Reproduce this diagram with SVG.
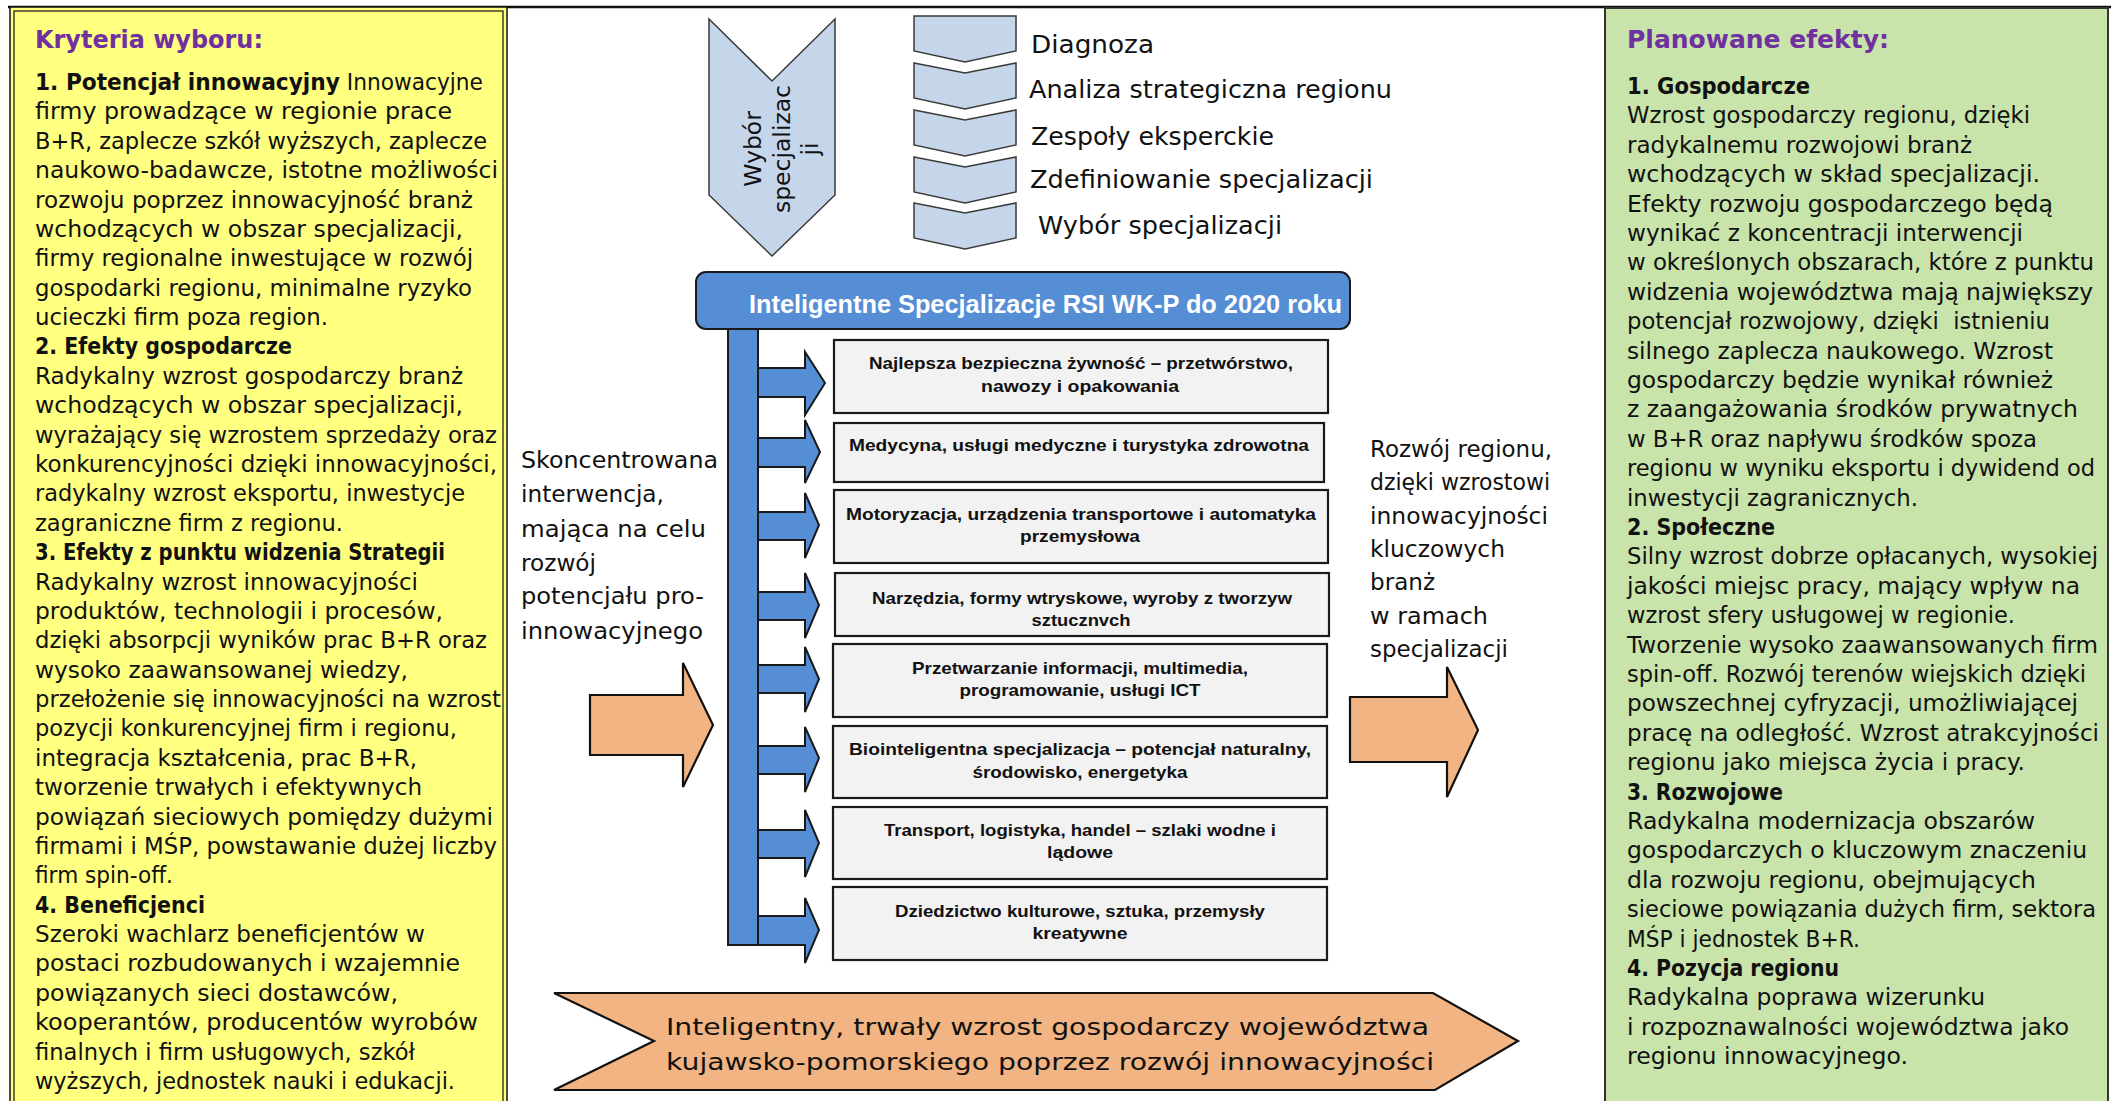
<svg xmlns="http://www.w3.org/2000/svg" width="2111" height="1101" viewBox="0 0 2111 1101">
<style>
.t{font-family:"DejaVu Sans","Liberation Sans",sans-serif;font-size:23.5px;fill:#111}
.b{font-weight:bold}
.hd{font-family:"DejaVu Sans","Liberation Sans",sans-serif;font-weight:bold;font-size:25px;fill:#7030A0}
.bx{fill:#F2F2F2;stroke:#1a1a1a;stroke-width:2.2}
.bt{font-family:"Liberation Sans","DejaVu Sans",sans-serif;font-weight:bold;font-size:17px;fill:#111;text-anchor:middle}
.chev{fill:#C6D6EA;stroke:#3a3a3a;stroke-width:1.5}
.cl{font-family:"DejaVu Sans","Liberation Sans",sans-serif;font-size:24px;fill:#111}
.ba{fill:#558ED5;stroke:#1a1a1a;stroke-width:2}
.oa{fill:#F1B482;stroke:#111;stroke-width:2.2}
.mid{font-family:"DejaVu Sans","Liberation Sans",sans-serif;font-size:23.5px;fill:#111}
</style>
<rect x="0" y="0" width="2111" height="1101" fill="#ffffff"/>
<line x1="8" y1="7" x2="2111" y2="7" stroke="#111" stroke-width="2.5"/>

<g id="criteria">
<rect x="10" y="7" width="497" height="1100" fill="#FFFF80" stroke="#111" stroke-width="1.5"/>
<rect x="14" y="11" width="489" height="1100" fill="none" stroke="#111" stroke-width="1.2"/>
<text class="hd" x="35" y="48" textLength="228" lengthAdjust="spacingAndGlyphs">Kryteria wyboru:</text>
<text class="t" x="35" y="90" textLength="448" lengthAdjust="spacingAndGlyphs"><tspan class="b">1. Potencjał innowacyjny</tspan> Innowacyjne</text>
<text class="t" x="35" y="119.4" textLength="417" lengthAdjust="spacingAndGlyphs">firmy prowadzące w regionie prace</text>
<text class="t" x="35" y="148.8" textLength="452" lengthAdjust="spacingAndGlyphs">B+R, zaplecze szkół wyższych, zaplecze</text>
<text class="t" x="35" y="178.1" textLength="463" lengthAdjust="spacingAndGlyphs">naukowo-badawcze, istotne możliwości</text>
<text class="t" x="35" y="207.5" textLength="438" lengthAdjust="spacingAndGlyphs">rozwoju poprzez innowacyjność branż</text>
<text class="t" x="35" y="236.9" textLength="428" lengthAdjust="spacingAndGlyphs">wchodzących w obszar specjalizacji,</text>
<text class="t" x="35" y="266.3" textLength="438" lengthAdjust="spacingAndGlyphs">firmy regionalne inwestujące w rozwój</text>
<text class="t" x="35" y="295.7" textLength="437" lengthAdjust="spacingAndGlyphs">gospodarki regionu, minimalne ryzyko</text>
<text class="t" x="35" y="325" textLength="293" lengthAdjust="spacingAndGlyphs">ucieczki firm poza region.</text>
<text class="t b" x="35" y="354.4" textLength="257" lengthAdjust="spacingAndGlyphs">2. Efekty gospodarcze</text>
<text class="t" x="35" y="383.8" textLength="428" lengthAdjust="spacingAndGlyphs">Radykalny wzrost gospodarczy branż</text>
<text class="t" x="35" y="413.2" textLength="428" lengthAdjust="spacingAndGlyphs">wchodzących w obszar specjalizacji,</text>
<text class="t" x="35" y="442.6" textLength="462" lengthAdjust="spacingAndGlyphs">wyrażający się wzrostem sprzedaży oraz</text>
<text class="t" x="35" y="471.9" textLength="462" lengthAdjust="spacingAndGlyphs">konkurencyjności dzięki innowacyjności,</text>
<text class="t" x="35" y="501.3" textLength="430" lengthAdjust="spacingAndGlyphs">radykalny wzrost eksportu, inwestycje</text>
<text class="t" x="35" y="530.7" textLength="308" lengthAdjust="spacingAndGlyphs">zagraniczne firm z regionu.</text>
<text class="t b" x="35" y="560.1" textLength="410" lengthAdjust="spacingAndGlyphs">3. Efekty z punktu widzenia Strategii</text>
<text class="t" x="35" y="589.5" textLength="383" lengthAdjust="spacingAndGlyphs">Radykalny wzrost innowacyjności</text>
<text class="t" x="35" y="618.8" textLength="408" lengthAdjust="spacingAndGlyphs">produktów, technologii i procesów,</text>
<text class="t" x="35" y="648.2" textLength="452" lengthAdjust="spacingAndGlyphs">dzięki absorpcji wyników prac B+R oraz</text>
<text class="t" x="35" y="677.6" textLength="373" lengthAdjust="spacingAndGlyphs">wysoko zaawansowanej wiedzy,</text>
<text class="t" x="35" y="707" textLength="466" lengthAdjust="spacingAndGlyphs">przełożenie się innowacyjności na wzrost</text>
<text class="t" x="35" y="736.4" textLength="422" lengthAdjust="spacingAndGlyphs">pozycji konkurencyjnej firm i regionu,</text>
<text class="t" x="35" y="765.7" textLength="382" lengthAdjust="spacingAndGlyphs">integracja kształcenia, prac B+R,</text>
<text class="t" x="35" y="795.1" textLength="387" lengthAdjust="spacingAndGlyphs">tworzenie trwałych i efektywnych</text>
<text class="t" x="35" y="824.5" textLength="458" lengthAdjust="spacingAndGlyphs">powiązań sieciowych pomiędzy dużymi</text>
<text class="t" x="35" y="853.9" textLength="462" lengthAdjust="spacingAndGlyphs">firmami i MŚP, powstawanie dużej liczby</text>
<text class="t" x="35" y="883.3" textLength="138" lengthAdjust="spacingAndGlyphs">firm spin-off.</text>
<text class="t b" x="35" y="912.6" textLength="170" lengthAdjust="spacingAndGlyphs">4. Beneficjenci</text>
<text class="t" x="35" y="942" textLength="390" lengthAdjust="spacingAndGlyphs">Szeroki wachlarz beneficjentów w</text>
<text class="t" x="35" y="971.4" textLength="425" lengthAdjust="spacingAndGlyphs">postaci rozbudowanych i wzajemnie</text>
<text class="t" x="35" y="1000.8" textLength="363" lengthAdjust="spacingAndGlyphs">powiązanych sieci dostawców,</text>
<text class="t" x="35" y="1030.2" textLength="443" lengthAdjust="spacingAndGlyphs">kooperantów, producentów wyrobów</text>
<text class="t" x="35" y="1059.5" textLength="380" lengthAdjust="spacingAndGlyphs">finalnych i firm usługowych, szkół</text>
<text class="t" x="35" y="1088.9" textLength="420" lengthAdjust="spacingAndGlyphs">wyższych, jednostek nauki i edukacji.</text>
</g>

<g id="effects">
<rect x="1605" y="8" width="503" height="1100" fill="#C8E4AA" stroke="#333" stroke-width="2"/>
<text class="hd" x="1627" y="48" textLength="262" lengthAdjust="spacingAndGlyphs">Planowane efekty:</text>
<text class="t b" x="1627" y="94" textLength="183" lengthAdjust="spacingAndGlyphs">1. Gospodarcze</text>
<text class="t" x="1627" y="123.4" textLength="403" lengthAdjust="spacingAndGlyphs">Wzrost gospodarczy regionu, dzięki</text>
<text class="t" x="1627" y="152.8" textLength="345" lengthAdjust="spacingAndGlyphs">radykalnemu rozwojowi branż</text>
<text class="t" x="1627" y="182.2" textLength="413" lengthAdjust="spacingAndGlyphs">wchodzących w skład specjalizacji.</text>
<text class="t" x="1627" y="211.6" textLength="426" lengthAdjust="spacingAndGlyphs">Efekty rozwoju gospodarczego będą</text>
<text class="t" x="1627" y="241" textLength="396" lengthAdjust="spacingAndGlyphs">wynikać z koncentracji interwencji</text>
<text class="t" x="1627" y="270.4" textLength="467" lengthAdjust="spacingAndGlyphs">w określonych obszarach, które z punktu</text>
<text class="t" x="1627" y="299.8" textLength="466" lengthAdjust="spacingAndGlyphs">widzenia województwa mają największy</text>
<text class="t" x="1627" y="329.2" textLength="423" lengthAdjust="spacingAndGlyphs">potencjał rozwojowy, dzięki&#160; istnieniu</text>
<text class="t" x="1627" y="358.6" textLength="426" lengthAdjust="spacingAndGlyphs">silnego zaplecza naukowego. Wzrost</text>
<text class="t" x="1627" y="388" textLength="426" lengthAdjust="spacingAndGlyphs">gospodarczy będzie wynikał również</text>
<text class="t" x="1627" y="417.4" textLength="451" lengthAdjust="spacingAndGlyphs">z zaangażowania środków prywatnych</text>
<text class="t" x="1627" y="446.8" textLength="410" lengthAdjust="spacingAndGlyphs">w B+R oraz napływu środków spoza</text>
<text class="t" x="1627" y="476.2" font-size="21" textLength="468" lengthAdjust="spacingAndGlyphs">regionu w wyniku eksportu i dywidend od</text>
<text class="t" x="1627" y="505.6" textLength="291" lengthAdjust="spacingAndGlyphs">inwestycji zagranicznych.</text>
<text class="t b" x="1627" y="535" textLength="148" lengthAdjust="spacingAndGlyphs">2. Społeczne</text>
<text class="t" x="1627" y="564.4" textLength="471" lengthAdjust="spacingAndGlyphs">Silny wzrost dobrze opłacanych, wysokiej</text>
<text class="t" x="1627" y="593.8" textLength="453" lengthAdjust="spacingAndGlyphs">jakości miejsc pracy, mający wpływ na</text>
<text class="t" x="1627" y="623.2" textLength="388" lengthAdjust="spacingAndGlyphs">wzrost sfery usługowej w regionie.</text>
<text class="t" x="1627" y="652.6" textLength="471" lengthAdjust="spacingAndGlyphs">Tworzenie wysoko zaawansowanych firm</text>
<text class="t" x="1627" y="682" textLength="459" lengthAdjust="spacingAndGlyphs">spin-off. Rozwój terenów wiejskich dzięki</text>
<text class="t" x="1627" y="711.4" textLength="451" lengthAdjust="spacingAndGlyphs">powszechnej cyfryzacji, umożliwiającej</text>
<text class="t" x="1627" y="740.8" textLength="472" lengthAdjust="spacingAndGlyphs">pracę na odległość. Wzrost atrakcyjności</text>
<text class="t" x="1627" y="770.2" textLength="398" lengthAdjust="spacingAndGlyphs">regionu jako miejsca życia i pracy.</text>
<text class="t b" x="1627" y="799.6" textLength="156" lengthAdjust="spacingAndGlyphs">3. Rozwojowe</text>
<text class="t" x="1627" y="829" textLength="408" lengthAdjust="spacingAndGlyphs">Radykalna modernizacja obszarów</text>
<text class="t" x="1627" y="858.4" textLength="460" lengthAdjust="spacingAndGlyphs">gospodarczych o kluczowym znaczeniu</text>
<text class="t" x="1627" y="887.8" textLength="409" lengthAdjust="spacingAndGlyphs">dla rozwoju regionu, obejmujących</text>
<text class="t" x="1627" y="917.2" font-size="21" textLength="469" lengthAdjust="spacingAndGlyphs">sieciowe powiązania dużych firm, sektora</text>
<text class="t" x="1627" y="946.6" textLength="233" lengthAdjust="spacingAndGlyphs">MŚP i jednostek B+R.</text>
<text class="t b" x="1627" y="976" textLength="212" lengthAdjust="spacingAndGlyphs">4. Pozycja regionu</text>
<text class="t" x="1627" y="1005.4" textLength="358" lengthAdjust="spacingAndGlyphs">Radykalna poprawa wizerunku</text>
<text class="t" x="1627" y="1034.8" textLength="442" lengthAdjust="spacingAndGlyphs">i rozpoznawalności województwa jako</text>
<text class="t" x="1627" y="1064.2" textLength="281" lengthAdjust="spacingAndGlyphs">regionu innowacyjnego.</text>
</g>

<g id="selection-chevron">
<polygon class="chev" points="709,19 772,81 835,19 835,195 772,256 709,195"/>
<text class="mid" font-size="22" text-anchor="middle" transform="translate(761,149) rotate(-90)">Wybór</text>
<text class="mid" font-size="22" text-anchor="middle" transform="translate(790,149) rotate(-90)" textLength="128" lengthAdjust="spacingAndGlyphs">specjalizac</text>
<text class="mid" font-size="22" text-anchor="middle" transform="translate(818,149) rotate(-90)">ji</text>
</g>

<g id="step-diagnoza">
<polygon class="chev" points="914,16 1016,16 1016,51 965,62 914,51"/>
<text class="cl" x="1031" y="53" textLength="123" lengthAdjust="spacingAndGlyphs">Diagnoza</text>
</g>
<g id="step-analiza">
<polygon class="chev" points="914,63 965,73 1016,63 1016,98 965,109 914,98"/>
<text class="cl" x="1029" y="98" textLength="363" lengthAdjust="spacingAndGlyphs">Analiza strategiczna regionu</text>
</g>
<g id="step-zespoly">
<polygon class="chev" points="914,110 965,120 1016,110 1016,145 965,156 914,145"/>
<text class="cl" x="1031" y="145" textLength="243" lengthAdjust="spacingAndGlyphs">Zespoły eksperckie</text>
</g>
<g id="step-zdefiniowanie">
<polygon class="chev" points="914,157 965,167 1016,157 1016,192 965,203 914,192"/>
<text class="cl" x="1030" y="188" textLength="343" lengthAdjust="spacingAndGlyphs">Zdefiniowanie specjalizacji</text>
</g>
<g id="step-wybor">
<polygon class="chev" points="914,203 965,213 1016,203 1016,238 965,249 914,238"/>
<text class="cl" x="1038" y="234" textLength="244" lengthAdjust="spacingAndGlyphs">Wybór specjalizacji</text>
</g>

<g id="connectors">
<polygon class="ba" points="758,368 805,368 805,352 825,383 805,415 805,397 758,397"/>
<polygon class="ba" points="758,438 805,438 805,420 820,452 805,483 805,467 758,467"/>
<polygon class="ba" points="758,512 805,512 805,493 819,525 805,558 805,540 758,540"/>
<polygon class="ba" points="758,592 805,592 805,573 819,605 805,638 805,620 758,620"/>
<polygon class="ba" points="758,665 805,665 805,647 819,679 805,712 805,693 758,693"/>
<polygon class="ba" points="758,746 805,746 805,727 819,758 805,792 805,774 758,774"/>
<polygon class="ba" points="758,830 805,830 805,810 819,843 805,877 805,858 758,858"/>
<polygon class="ba" points="758,916 805,916 805,898 819,930 805,963 805,945 758,945"/>
<polygon class="oa" points="590,695 683,695 683,663 713,725 683,787 683,755 590,755"/>
<polygon class="oa" points="1350,697 1447,697 1447,667 1478,730 1447,797 1447,762 1350,762"/>
</g>

<g id="ris-title">
<rect class="ba" x="696" y="272" width="654" height="57" rx="10" ry="10"/>
<rect class="ba" x="728" y="329" width="30" height="616"/>
<text x="749" y="313" font-family="'Liberation Sans','DejaVu Sans',sans-serif" font-weight="bold" font-size="26" fill="#ffffff" textLength="593" lengthAdjust="spacingAndGlyphs">Inteligentne Specjalizacje RSI WK-P do 2020 roku</text>
</g>

<g id="spec-1">
<rect class="bx" x="834" y="340" width="494" height="73"/>
<text class="bt" x="1081" y="369" textLength="424" lengthAdjust="spacingAndGlyphs">Najlepsza bezpieczna żywność – przetwórstwo,</text>
<text class="bt" x="1080" y="392" textLength="198" lengthAdjust="spacingAndGlyphs">nawozy i opakowania</text>
</g>
<g id="spec-2">
<rect class="bx" x="834" y="423" width="490" height="59"/>
<text class="bt" x="1079" y="451" textLength="460" lengthAdjust="spacingAndGlyphs">Medycyna, usługi medyczne i turystyka zdrowotna</text>
</g>
<g id="spec-3">
<rect class="bx" x="834" y="490" width="494" height="73"/>
<text class="bt" x="1081" y="520" textLength="470" lengthAdjust="spacingAndGlyphs">Motoryzacja, urządzenia transportowe i automatyka</text>
<text class="bt" x="1080" y="542" textLength="120" lengthAdjust="spacingAndGlyphs">przemysłowa</text>
</g>
<g id="spec-4">
<rect class="bx" x="835" y="573" width="494" height="63"/>
<text class="bt" x="1082" y="604" textLength="420" lengthAdjust="spacingAndGlyphs">Narzędzia, formy wtryskowe, wyroby z tworzyw</text>
<text class="bt" x="1081" y="626" textLength="99" lengthAdjust="spacingAndGlyphs">sztucznvch</text>
</g>
<g id="spec-5">
<rect class="bx" x="833" y="644" width="494" height="73"/>
<text class="bt" x="1080" y="674" textLength="336" lengthAdjust="spacingAndGlyphs">Przetwarzanie informacji, multimedia,</text>
<text class="bt" x="1080" y="696" textLength="241" lengthAdjust="spacingAndGlyphs">programowanie, usługi ICT</text>
</g>
<g id="spec-6">
<rect class="bx" x="833" y="726" width="494" height="72"/>
<text class="bt" x="1080" y="755" textLength="462" lengthAdjust="spacingAndGlyphs">Biointeligentna specjalizacja – potencjał naturalny,</text>
<text class="bt" x="1080" y="778" textLength="215" lengthAdjust="spacingAndGlyphs">środowisko, energetyka</text>
</g>
<g id="spec-7">
<rect class="bx" x="833" y="807" width="494" height="72"/>
<text class="bt" x="1080" y="836" textLength="392" lengthAdjust="spacingAndGlyphs">Transport, logistyka, handel – szlaki wodne i</text>
<text class="bt" x="1080" y="858" textLength="66" lengthAdjust="spacingAndGlyphs">lądowe</text>
</g>
<g id="spec-8">
<rect class="bx" x="833" y="887" width="494" height="73"/>
<text class="bt" x="1080" y="917" textLength="370" lengthAdjust="spacingAndGlyphs">Dziedzictwo kulturowe, sztuka, przemysły</text>
<text class="bt" x="1080" y="939" textLength="95" lengthAdjust="spacingAndGlyphs">kreatywne</text>
</g>

<g id="intervention-text">
<text class="mid" x="521" y="468" textLength="197" lengthAdjust="spacingAndGlyphs">Skoncentrowana</text>
<text class="mid" x="521" y="502" textLength="143" lengthAdjust="spacingAndGlyphs">interwencja,</text>
<text class="mid" x="521" y="537" textLength="185" lengthAdjust="spacingAndGlyphs">mająca na celu</text>
<text class="mid" x="521" y="571" textLength="75" lengthAdjust="spacingAndGlyphs">rozwój</text>
<text class="mid" x="521" y="604" textLength="183" lengthAdjust="spacingAndGlyphs">potencjału pro-</text>
<text class="mid" x="521" y="639" textLength="182" lengthAdjust="spacingAndGlyphs">innowacyjnego</text>
</g>

<g id="development-text">
<text class="mid" x="1370" y="457" textLength="182" lengthAdjust="spacingAndGlyphs">Rozwój regionu,</text>
<text class="mid" x="1370" y="490" textLength="180" lengthAdjust="spacingAndGlyphs">dzięki wzrostowi</text>
<text class="mid" x="1370" y="524" textLength="178" lengthAdjust="spacingAndGlyphs">innowacyjności</text>
<text class="mid" x="1370" y="557" textLength="135" lengthAdjust="spacingAndGlyphs">kluczowych</text>
<text class="mid" x="1370" y="590" textLength="65" lengthAdjust="spacingAndGlyphs">branż</text>
<text class="mid" x="1370" y="624" textLength="118" lengthAdjust="spacingAndGlyphs">w ramach</text>
<text class="mid" x="1370" y="657" textLength="138" lengthAdjust="spacingAndGlyphs">specjalizacji</text>
</g>

<g id="goal-banner">
<polygon class="oa" points="554,993 1433,993 1518,1041 1435,1090 554,1090 654,1041"/>
<text class="mid" font-size="28" x="666" y="1035" textLength="763" lengthAdjust="spacingAndGlyphs">Inteligentny, trwały wzrost gospodarczy województwa</text>
<text class="mid" font-size="28" x="666" y="1070" textLength="768" lengthAdjust="spacingAndGlyphs">kujawsko-pomorskiego poprzez rozwój innowacyjności</text>
</g>
</svg>
